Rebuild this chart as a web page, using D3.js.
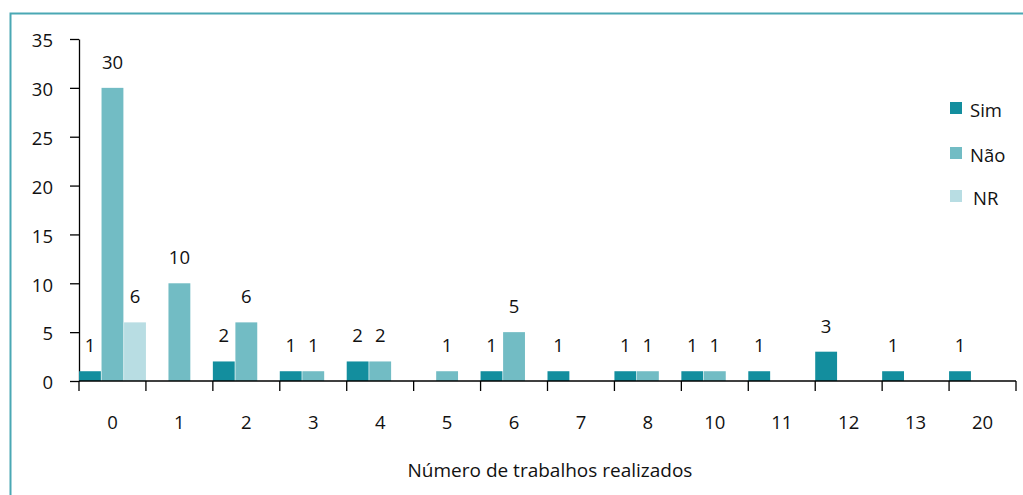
<!DOCTYPE html>
<html>
<head>
<meta charset="utf-8">
<script src="https://cdn.jsdelivr.net/npm/d3@7/dist/d3.min.js"></script>
<style>
html,body{margin:0;padding:0;background:#fff;}
svg{display:block;font-family:"Open Sans",sans-serif;}
</style>
</head>
<body>
<svg id="chart" width="1023" height="495"></svg>
<script>
const categories = ["0","1","2","3","4","5","6","7","8","10","11","12","13","20"];
const sim = [1,0,2,1,2,0,1,1,1,1,1,3,1,1];
const nao = [30,10,6,1,2,1,5,0,1,1,0,0,0,0];
const nr  = [6,0,0,0,0,0,0,0,0,0,0,0,0,0];
const seriesNames = ["Sim","Não","NR"];
const colors = ["#138e9e","#72bcc4","#b8dde3"];
const yTicks = [0,5,10,15,20,25,30,35];

const series = [sim, nao, nr];
const svg = d3.select("#chart");
const fs = "18.5px";

// frame
svg.append("path")
  .attr("d","M10.5,495 L10.5,13.5 L1023,13.5")
  .attr("fill","none").attr("stroke","#4aa8b4").attr("stroke-width",2);

const mLeft = 79, mRight = 1016, mTop = 39, mBottom = 381;
const x = d3.scaleBand().domain(categories).range([mLeft,mRight]).paddingInner(0).paddingOuter(0);
const xs = d3.scaleBand().domain(seriesNames).range([0,x.bandwidth()]).paddingInner(0.03).paddingOuter(0);
const y = d3.scaleLinear().domain([0,35]).range([mBottom,mTop]);

// y axis
const yAxis = svg.append("g").attr("transform",`translate(${mLeft},0)`)
  .call(d3.axisLeft(y).tickValues(yTicks).tickSize(9).tickPadding(17).tickSizeOuter(0));
yAxis.select(".domain").attr("stroke","#000").attr("stroke-width",1.3);
yAxis.selectAll(".tick line").attr("stroke","#000").attr("stroke-width",1.3);
yAxis.selectAll(".tick text").attr("font-size",fs).attr("fill","#111")
  .attr("font-family","Open Sans, sans-serif").attr("dy","0.42em");

// bars
series.forEach((vals,si)=>{
  const g = svg.append("g");
  categories.forEach((c,i)=>{
    const v = vals[i];
    if(!v) return;
    const bx = x(c)+xs(seriesNames[si]);
    g.append("rect")
      .attr("x",bx).attr("width",xs.bandwidth())
      .attr("y",y(v)).attr("height",y(0)-y(v))
      .attr("fill",colors[si]);
    g.append("text")
      .attr("x",bx+xs.bandwidth()/2).attr("y",y(v)-19)
      .attr("text-anchor","middle").attr("font-size",fs).attr("fill","#111")
      .text(v);
  });
});

// x axis
const xAxisG = svg.append("g").attr("transform",`translate(0,${mBottom})`);
xAxisG.append("line").attr("x1",mLeft).attr("x2",mRight).attr("y1",0).attr("y2",0)
  .attr("stroke","#000").attr("stroke-width",1.3);
const bounds = categories.map(c=>x(c)).concat([mRight]);
xAxisG.selectAll("line.tk").data(bounds).enter().append("line").attr("class","tk")
  .attr("x1",d=>d).attr("x2",d=>d).attr("y1",0).attr("y2",10)
  .attr("stroke","#000").attr("stroke-width",1.3);
xAxisG.selectAll("text").data(categories).enter().append("text")
  .attr("x",d=>x(d)+x.bandwidth()/2).attr("y",48)
  .attr("text-anchor","middle").attr("font-size",fs).attr("fill","#111")
  .text(d=>d);

svg.append("text").attr("x",550).attr("y",477).attr("text-anchor","middle")
  .attr("font-size","19px").attr("fill","#111").text("Número de trabalhos realizados");

// legend
const legendY = [102,147,190];
const legendTX = [970,970,973];
seriesNames.forEach((n,i)=>{
  svg.append("rect").attr("x",950).attr("y",legendY[i]).attr("width",12).attr("height",12).attr("fill",colors[i]);
  svg.append("text").attr("x",legendTX[i]).attr("y",legendY[i]+15).attr("font-size","18.5px").attr("fill","#111").text(n);
});
</script>
</body>
</html>
